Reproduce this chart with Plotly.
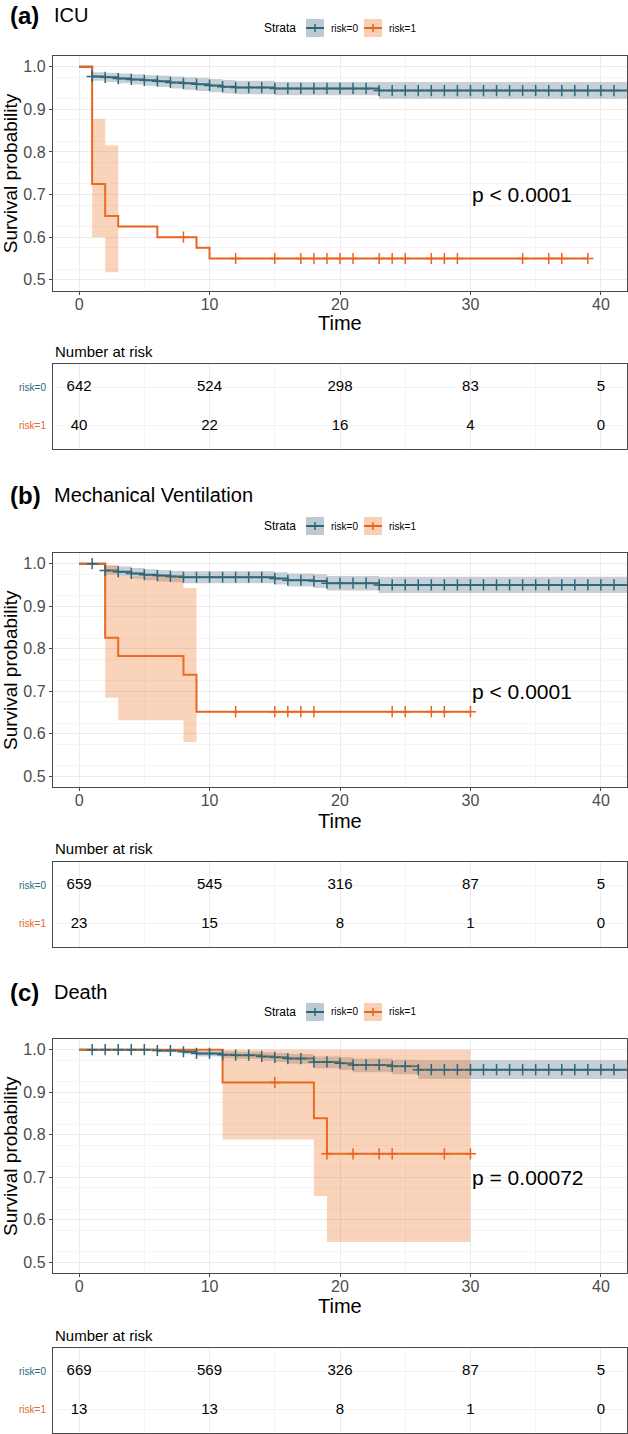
import plotly.graph_objects as go

# ---------------- DATA ----------------
# Panel (a) ICU
a0_times = [0, 1, 2, 3, 4, 5, 6, 7, 8, 9, 10, 11, 12, 15, 23, 43]
a0_surv = [1.0, 0.977, 0.975, 0.972, 0.970, 0.968, 0.966, 0.963, 0.961, 0.959, 0.956, 0.953, 0.951, 0.949, 0.944, 0.944]
a0_lower = [1.0, 0.967, 0.964, 0.961, 0.958, 0.955, 0.952, 0.949, 0.946, 0.943, 0.940, 0.937, 0.935, 0.933, 0.925, 0.925]
a0_upper = [1.0, 0.987, 0.986, 0.984, 0.982, 0.980, 0.979, 0.977, 0.975, 0.974, 0.971, 0.969, 0.967, 0.964, 0.964, 0.964]
a0_censor = list(range(1, 42))
a1_times = [0, 1, 2, 3, 6, 9, 10, 39]
a1_surv = [1.0, 0.725, 0.65, 0.625, 0.60, 0.575, 0.55, 0.55]
a1_band_times = [1, 2, 3]
a1_lower = [0.600, 0.518, 0.518]
a1_upper = [0.877, 0.815, 0.815]
a1_censor = [8, 12, 15, 17, 18, 19, 20, 21, 23, 24, 25, 27, 28, 29, 34, 36, 37, 39]

# Panel (b) Mechanical Ventilation
b0_times = [0, 2, 3, 4, 5, 6, 7, 8, 15, 16, 18, 19, 23, 43]
b0_surv = [1.0, 0.984, 0.981, 0.977, 0.974, 0.972, 0.970, 0.968, 0.965, 0.961, 0.959, 0.954, 0.950, 0.950]
b0_lower = [1.0, 0.974, 0.970, 0.965, 0.961, 0.958, 0.956, 0.954, 0.951, 0.946, 0.943, 0.937, 0.931, 0.931]
b0_upper = [1.0, 0.995, 0.993, 0.990, 0.987, 0.985, 0.983, 0.982, 0.980, 0.977, 0.975, 0.971, 0.969, 0.969]
b0_censor = list(range(1, 42))
b1_times = [0, 2, 3, 8, 9, 30]
b1_surv = [1.0, 0.826, 0.783, 0.739, 0.652, 0.652]
b1_band_times = [2, 3, 8, 9]
b1_lower = [0.685, 0.632, 0.581, 0.581]
b1_upper = [0.997, 0.970, 0.943, 0.943]
b1_censor = [12, 15, 16, 17, 18, 24, 25, 27, 28, 30]

# Panel (c) Death
c0_times = [0, 6, 8, 9, 11, 12, 14, 15, 16, 18, 20, 21, 24, 26, 43]
c0_surv = [1.0, 0.998, 0.995, 0.991, 0.988, 0.987, 0.984, 0.982, 0.979, 0.971, 0.968, 0.964, 0.961, 0.953, 0.953]
c0_lower = [1.0, 0.994, 0.989, 0.984, 0.980, 0.978, 0.974, 0.971, 0.967, 0.956, 0.952, 0.947, 0.942, 0.931, 0.931]
c0_upper = [1.0, 1.0, 0.999, 0.997, 0.996, 0.995, 0.993, 0.992, 0.990, 0.984, 0.982, 0.979, 0.976, 0.975, 0.975]
c0_censor = list(range(1, 42))
c1_times = [0, 11, 18, 19, 30]
c1_surv = [1.0, 0.923, 0.839, 0.755, 0.755]
c1_band_times = [11, 18, 19, 30]
c1_lower = [0.789, 0.656, 0.548, 0.548]
c1_upper = [1.0, 1.0, 1.0, 1.0]
c1_censor = [15, 19, 21, 23, 24, 28, 30]

# Number at risk
risk_times = [0, 10, 20, 30, 40]
a_risk0 = [642, 524, 298, 83, 5]
a_risk1 = [40, 22, 16, 4, 0]
b_risk0 = [659, 545, 316, 87, 5]
b_risk1 = [23, 15, 8, 1, 0]
c_risk0 = [669, 569, 326, 87, 5]
c_risk1 = [13, 13, 8, 1, 0]

panel_letters = ["(a)", "(b)", "(c)"]
panel_titles = ["ICU", "Mechanical Ventilation", "Death"]
pvals = ["p < 0.0001", "p < 0.0001", "p = 0.00072"]
strata_labels = ["risk=0", "risk=1"]
x_ticks = [0, 10, 20, 30, 40]
y_ticks = [0.5, 0.6, 0.7, 0.8, 0.9, 1.0]

# ---------------- STYLE / LAYOUT ----------------
W, H = 628, 1434
FONT = "Liberation Sans, Arial, Helvetica, sans-serif"
TEAL = "#2C6879"
ORANGE = "#E8641E"
TEAL_FILL = "rgba(70,100,120,0.30)"
ORANGE_FILL = "rgba(240,120,50,0.33)"
TEAL_KEY = "#BECAD1"
ORANGE_KEY = "#F9D0B6"
GRID = "#EBEBEB"
MINOR = "#F3F3F3"
BORDER = "#4A4A4A"

XL, XR = 53, 627
geom = [
    dict(km_top=56, km_bot=290.5, tab_top=364, tab_bot=449, title_y=15.5, legend_y=28, time_y=323, nar_y=351),
    dict(km_top=553, km_bot=787, tab_top=862, tab_bot=947, title_y=495, legend_y=526, time_y=821, nar_y=848),
    dict(km_top=1039, km_bot=1273, tab_top=1348, tab_bot=1433, title_y=992, legend_y=1012, time_y=1306, nar_y=1335),
]


def px(x):
    return x / W


def py(y):
    return 1 - y / H


def step_value(times, surv, t):
    v = surv[0]
    for ti, si in zip(times, surv):
        if ti <= t:
            v = si
    return v


panels = [
    dict(g0=(a0_times, a0_surv, a0_lower, a0_upper, a0_censor),
         g1=(a1_times, a1_surv, a1_band_times, a1_lower, a1_upper, a1_censor),
         risk=(a_risk0, a_risk1)),
    dict(g0=(b0_times, b0_surv, b0_lower, b0_upper, b0_censor),
         g1=(b1_times, b1_surv, b1_band_times, b1_lower, b1_upper, b1_censor),
         risk=(b_risk0, b_risk1)),
    dict(g0=(c0_times, c0_surv, c0_lower, c0_upper, c0_censor),
         g1=(c1_times, c1_surv, c1_band_times, c1_lower, c1_upper, c1_censor),
         risk=(c_risk0, c_risk1)),
]

fig = go.Figure()
annotations = []
shapes = []
layout_axes = {}

for i, (p, g) in enumerate(zip(panels, geom)):
    km = 2 * i + 1
    tb = 2 * i + 2
    xk = "x" if km == 1 else f"x{km}"
    yk = "y" if km == 1 else f"y{km}"
    xt = f"x{tb}"
    yt = f"y{tb}"

    t0, s0, lo0, up0, cen0 = p["g0"]
    t1, s1, bt1, lo1, up1, cen1 = p["g1"]

    # lines
    fig.add_trace(go.Scatter(x=t0, y=s0, mode="lines", line=dict(color=TEAL, width=2, shape="hv"),
                             xaxis=xk, yaxis=yk, showlegend=False, hoverinfo="skip"))
    fig.add_trace(go.Scatter(x=t1, y=s1, mode="lines", line=dict(color=ORANGE, width=2, shape="hv"),
                             xaxis=xk, yaxis=yk, showlegend=False, hoverinfo="skip"))
    # bands
    fig.add_trace(go.Scatter(x=t0, y=up0, mode="lines", line=dict(width=0, shape="hv"),
                             xaxis=xk, yaxis=yk, showlegend=False, hoverinfo="skip"))
    fig.add_trace(go.Scatter(x=t0, y=lo0, mode="lines", line=dict(width=0, shape="hv"),
                             fill="tonexty", fillcolor=TEAL_FILL,
                             xaxis=xk, yaxis=yk, showlegend=False, hoverinfo="skip"))
    fig.add_trace(go.Scatter(x=bt1, y=up1, mode="lines", line=dict(width=0, shape="hv"),
                             xaxis=xk, yaxis=yk, showlegend=False, hoverinfo="skip"))
    fig.add_trace(go.Scatter(x=bt1, y=lo1, mode="lines", line=dict(width=0, shape="hv"),
                             fill="tonexty", fillcolor=ORANGE_FILL,
                             xaxis=xk, yaxis=yk, showlegend=False, hoverinfo="skip"))
    # censor marks
    fig.add_trace(go.Scatter(x=cen0, y=[step_value(t0, s0, c) for c in cen0], mode="markers",
                             marker=dict(symbol="cross-thin", size=8, line=dict(color=TEAL, width=1.5)),
                             xaxis=xk, yaxis=yk, showlegend=False, hoverinfo="skip", cliponaxis=True))
    fig.add_trace(go.Scatter(x=cen1, y=[step_value(t1, s1, c) for c in cen1], mode="markers",
                             marker=dict(symbol="cross-thin", size=8, line=dict(color=ORANGE, width=1.5)),
                             xaxis=xk, yaxis=yk, showlegend=False, hoverinfo="skip"))

    # risk table
    r0, r1 = p["risk"]
    fig.add_trace(go.Scatter(x=risk_times, y=[2] * len(risk_times), mode="text",
                             text=[str(v) for v in r0], textfont=dict(size=15, color="black", family=FONT),
                             xaxis=xt, yaxis=yt, showlegend=False, hoverinfo="skip"))
    fig.add_trace(go.Scatter(x=risk_times, y=[1] * len(risk_times), mode="text",
                             text=[str(v) for v in r1], textfont=dict(size=15, color="black", family=FONT),
                             xaxis=xt, yaxis=yt, showlegend=False, hoverinfo="skip"))

    # axes
    xname = "xaxis" if km == 1 else f"xaxis{km}"
    yname = "yaxis" if km == 1 else f"yaxis{km}"
    layout_axes[xname] = dict(
        domain=[px(XL), px(XR)], anchor=yk, range=[-2, 42], tickvals=x_ticks,
        ticks="outside", ticklen=3, tickcolor=BORDER, tickwidth=1,
        tickfont=dict(size=16, color="#4D4D4D", family=FONT), ticklabelstandoff=-4,
        showline=True, mirror=True, linecolor=BORDER, linewidth=1.2,
        showgrid=True, gridcolor=GRID, gridwidth=1, zeroline=False,
        minor=dict(dtick=5, tick0=0, showgrid=True, gridcolor=MINOR, gridwidth=0.8, ticks=""),
        fixedrange=True)
    layout_axes[yname] = dict(
        domain=[py(g["km_bot"]), py(g["km_top"])], anchor=xk, range=[0.475, 1.025],
        tickvals=y_ticks, ticktext=[f"{v:.1f}" for v in y_ticks],
        ticks="outside", ticklen=3, tickcolor=BORDER, tickwidth=1,
        tickfont=dict(size=16, color="#4D4D4D", family=FONT),
        showline=True, mirror=True, linecolor=BORDER, linewidth=1.2,
        showgrid=True, gridcolor=GRID, gridwidth=1, zeroline=False,
        minor=dict(dtick=0.05, tick0=0.475, showgrid=True, gridcolor=MINOR, gridwidth=0.8, ticks=""),
        fixedrange=True)
    layout_axes[f"xaxis{tb}"] = dict(
        domain=[px(XL), px(XR)], anchor=yt, range=[-2, 42], tickvals=x_ticks,
        showticklabels=False, ticks="",
        showline=True, mirror=True, linecolor=BORDER, linewidth=1.2,
        showgrid=True, gridcolor=GRID, gridwidth=1, zeroline=False,
        minor=dict(dtick=5, tick0=0, showgrid=True, gridcolor=MINOR, gridwidth=0.8),
        fixedrange=True)
    layout_axes[f"yaxis{tb}"] = dict(
        domain=[py(g["tab_bot"]), py(g["tab_top"])], anchor=xt, range=[0.4, 2.6],
        tickvals=[1, 2], showticklabels=False, ticks="",
        showline=True, mirror=True, linecolor=BORDER, linewidth=1.2,
        showgrid=True, gridcolor=MINOR, gridwidth=1, zeroline=False,
        fixedrange=True)

    # text annotations
    annotations.append(dict(text="<b>" + panel_letters[i] + "</b>", x=px(8), y=py(g["title_y"]),
                            xref="paper", yref="paper", xanchor="left", yanchor="middle", showarrow=False,
                            font=dict(size=24, color="black", family=FONT)))
    annotations.append(dict(text=panel_titles[i], x=px(52), y=py(g["title_y"]),
                            xref="paper", yref="paper", xanchor="left", yanchor="middle", showarrow=False,
                            font=dict(size=20, color="black", family=FONT)))
    annotations.append(dict(text=pvals[i], x=30, y=0.7, xref=xk, yref=yk, xanchor="left", yanchor="middle",
                            showarrow=False, font=dict(size=21, color="black", family=FONT)))
    annotations.append(dict(text="Survival probability", x=px(10), y=py((g["km_top"] + g["km_bot"]) / 2),
                            xref="paper", yref="paper", xanchor="center", yanchor="middle", textangle=-90,
                            showarrow=False, font=dict(size=19, color="black", family=FONT)))
    annotations.append(dict(text="Time", x=px((XL + XR) / 2), y=py(g["time_y"]),
                            xref="paper", yref="paper", xanchor="center", yanchor="middle",
                            showarrow=False, font=dict(size=20, color="black", family=FONT)))
    annotations.append(dict(text="Number at risk", x=px(53), y=py(g["nar_y"]),
                            xref="paper", yref="paper", xanchor="left", yanchor="middle",
                            showarrow=False, font=dict(size=15, color="black", family=FONT)))
    for lab, yy, col in [(strata_labels[0], 2, TEAL), (strata_labels[1], 1, ORANGE)]:
        annotations.append(dict(text=lab, x=px(48), y=yy, xref="paper", yref=yt, xanchor="right",
                                yanchor="middle", showarrow=False, font=dict(size=10, color=col, family=FONT)))

    # legend (manual)
    ly = g["legend_y"]
    annotations.append(dict(text="Strata", x=px(298), y=py(ly), xref="paper", yref="paper", xanchor="right",
                            yanchor="middle", showarrow=False, font=dict(size=12, color="black", family=FONT)))
    for (kx0, kx1, lab_x, lab, col, kfill) in [(306, 324, 329, strata_labels[0], TEAL, TEAL_KEY),
                                               (364, 382, 387, strata_labels[1], ORANGE, ORANGE_KEY)]:
        shapes.append(dict(type="rect", xref="paper", yref="paper", x0=px(kx0), x1=px(kx1),
                           y0=py(ly + 9), y1=py(ly - 9), fillcolor=kfill, line=dict(width=0), layer="above"))
        shapes.append(dict(type="line", xref="paper", yref="paper", x0=px(kx0), x1=px(kx1),
                           y0=py(ly), y1=py(ly), line=dict(color=col, width=2), layer="above"))
        shapes.append(dict(type="line", xref="paper", yref="paper", x0=px((kx0 + kx1) / 2), x1=px((kx0 + kx1) / 2),
                           y0=py(ly - 4), y1=py(ly + 4), line=dict(color=col, width=1.5), layer="above"))
        annotations.append(dict(text=lab, x=px(lab_x), y=py(ly), xref="paper", yref="paper", xanchor="left",
                                yanchor="middle", showarrow=False, font=dict(size=10, color="black", family=FONT)))

fig.update_layout(
    width=W, height=H, autosize=False,
    margin=dict(l=0, r=0, t=0, b=0),
    paper_bgcolor="white", plot_bgcolor="white",
    font=dict(family=FONT),
    showlegend=False,
    annotations=annotations,
    shapes=shapes,
    **layout_axes,
)

fig.write_html("out.html",
               config={"displayModeBar": False, "staticPlot": True},
               post_script="document.body.style.margin='0';document.body.style.padding='0';"
                           "document.documentElement.style.margin='0';document.body.style.overflow='hidden';")
